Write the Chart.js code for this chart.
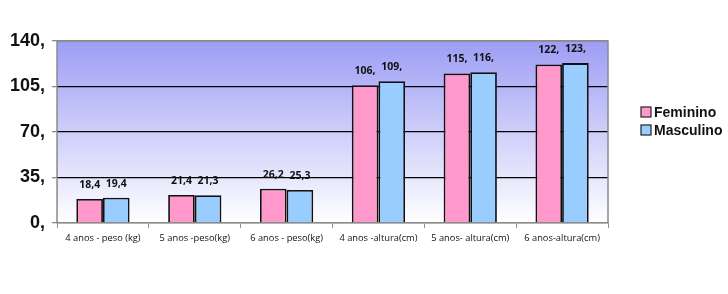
<!DOCTYPE html>
<html><head><meta charset="utf-8">
<script src="https://cdn.jsdelivr.net/npm/chart.js@4/dist/chart.umd.min.js"></script>
<style>html,body{margin:0;padding:0;background:#fff}#wrap{width:728px;height:294px}</style>
</head><body><div id="wrap"><canvas id="c"></canvas></div>
<script>
const categories = ["4 anos - peso (kg)", "5 anos -peso(kg)", "6 anos - peso(kg)", "4 anos -altura(cm)", "5 anos- altura(cm)", "6 anos-altura(cm)"];
const feminino = [18.4, 21.4, 26.2, 106, 115, 122];
const masculino = [19.4, 21.3, 25.3, 109, 116, 123];
const yTicks = [0, 35, 70, 105, 140];

function fmt(v){ return Number.isInteger(v) ? v + ',' : String(v).replace('.', ','); }

const bgPlugin = {
  id: 'bg',
  beforeDraw(chart){
    const {ctx, chartArea:a} = chart;
    const g = ctx.createLinearGradient(0, a.top, 0, a.bottom);
    g.addColorStop(0, '#9d9df5');
    g.addColorStop(1, '#ffffff');
    ctx.save(); ctx.fillStyle = g; ctx.fillRect(a.left, a.top, a.right - a.left, a.bottom - a.top); ctx.restore();
  },
  afterDatasetsDraw(chart){
    const {ctx, chartArea:a} = chart;
    ctx.save();
    ctx.strokeStyle = '#8a8a8a'; ctx.lineWidth = 1.5;
    ctx.beginPath(); ctx.moveTo(a.left, a.bottom); ctx.lineTo(a.left, a.top); ctx.lineTo(a.right, a.top); ctx.lineTo(a.right, a.bottom); ctx.stroke();
    ctx.font = 'bold 10.5px "Open Sans", Arial, sans-serif';
    ctx.fillStyle = '#111'; ctx.textAlign = 'center'; ctx.textBaseline = 'middle';
    chart.data.datasets.forEach((ds, i) => {
      chart.getDatasetMeta(i).data.forEach((el, j) => {
        ctx.fillText(fmt(ds.data[j]), el.x, el.y - 14);
      });
    });
    // legend
    ctx.font = 'bold 14px Arial, "Liberation Sans", sans-serif';
    ctx.textAlign = 'left';
    chart.data.datasets.forEach((ds, i) => {
      const x = a.right + 33, y = a.top + 71 + i * 18;
      ctx.fillStyle = ds.backgroundColor; ctx.fillRect(x, y - 5, 10, 10);
      ctx.strokeStyle = '#222'; ctx.lineWidth = 1.2; ctx.strokeRect(x, y - 5, 10, 10);
      ctx.fillStyle = '#111'; ctx.fillText(ds.label, x + 13, y + 1);
    });
    ctx.restore();
  }
};

new Chart(document.getElementById('c'), {
  type: 'bar',
  data: {
    labels: categories,
    datasets: [
      {label: 'Feminino', data: feminino, backgroundColor: '#ff99cc', borderColor: '#111', borderWidth: 1.8},
      {label: 'Masculino', data: masculino, backgroundColor: '#99ccff', borderColor: '#111', borderWidth: 1.8}
    ]
  },
  options: {
    responsive: true, maintainAspectRatio: false, animation: false,
    datasets: {bar: {categoryPercentage: 0.58, barPercentage: 1}},
    layout: {padding: {left: 3, top: 41, right: 120, bottom: 45}},
    plugins: {
      legend: {display: false},
      tooltip: {enabled: false}
    },
    scales: {
      y: {min: 0, max: 140, afterBuildTicks(s){ s.ticks = yTicks.map(v => ({value: v})); },
        ticks: {callback: v => v + ',', color: '#111', padding: 7, font: {family: 'Arial, "Liberation Sans", sans-serif', size: 18, weight: 'bold'}},
        grid: {color: c => (c.tick && (c.tick.value === 0 || c.tick.value === 140)) ? '#8a8a8a' : '#000', lineWidth: 1.3, tickColor: '#8a8a8a', tickLength: 5},
        border: {display: false}
      },
      x: {
        ticks: {color: '#111', font: {family: '"Open Sans", Arial, sans-serif', size: 9.3}, maxRotation: 0, autoSkip: false, padding: 5},
        grid: {offset: true, drawOnChartArea: false, color: '#8a8a8a', tickLength: 5},
        border: {color: '#8a8a8a', width: 1.5}
      }
    }
  },
  plugins: [bgPlugin]
});
</script></body></html>
